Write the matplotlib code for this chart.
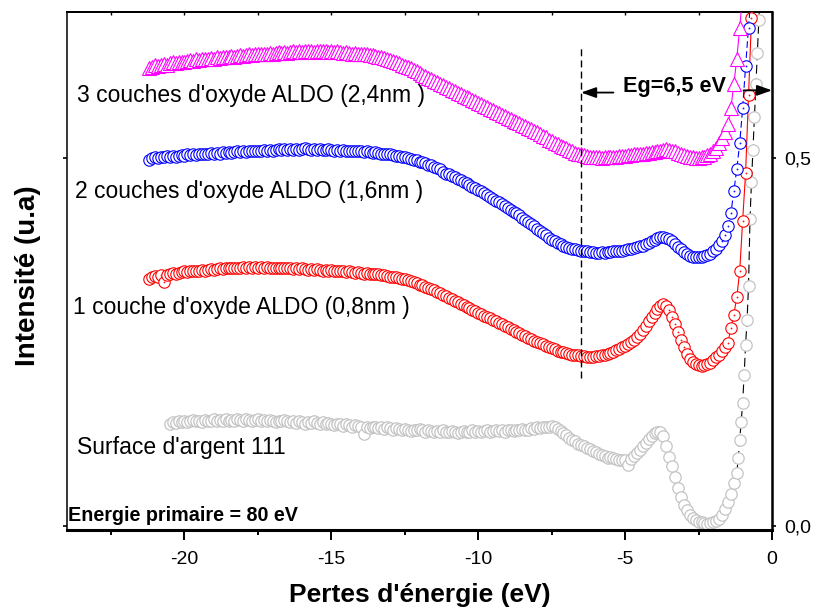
import matplotlib.pyplot as plt
from matplotlib.path import Path
from matplotlib.ticker import MultipleLocator

plt.rcParams['font.family'] = ['Liberation Sans', 'DejaVu Sans']
plt.rcParams['axes.unicode_minus'] = False

# grille en énergie (eV), pas de 0,1 eV
energy = [
    -21.2, -21.1, -21.0, -20.9, -20.8, -20.7, -20.6, -20.5, -20.4, -20.3,
    -20.2, -20.1, -20.0, -19.9, -19.8, -19.7, -19.6, -19.5, -19.4, -19.3,
    -19.2, -19.1, -19.0, -18.9, -18.8, -18.7, -18.6, -18.5, -18.4, -18.3,
    -18.2, -18.1, -18.0, -17.9, -17.8, -17.7, -17.6, -17.5, -17.4, -17.3,
    -17.2, -17.1, -17.0, -16.9, -16.8, -16.7, -16.6, -16.5, -16.4, -16.3,
    -16.2, -16.1, -16.0, -15.9, -15.8, -15.7, -15.6, -15.5, -15.4, -15.3,
    -15.2, -15.1, -15.0, -14.9, -14.8, -14.7, -14.6, -14.5, -14.4, -14.3,
    -14.2, -14.1, -14.0, -13.9, -13.8, -13.7, -13.6, -13.5, -13.4, -13.3,
    -13.2, -13.1, -13.0, -12.9, -12.8, -12.7, -12.6, -12.5, -12.4, -12.3,
    -12.2, -12.1, -12.0, -11.9, -11.8, -11.7, -11.6, -11.5, -11.4, -11.3,
    -11.2, -11.1, -11.0, -10.9, -10.8, -10.7, -10.6, -10.5, -10.4, -10.3,
    -10.2, -10.1, -10.0, -9.9, -9.8, -9.7, -9.6, -9.5, -9.4, -9.3,
    -9.2, -9.1, -9.0, -8.9, -8.8, -8.7, -8.6, -8.5, -8.4, -8.3,
    -8.2, -8.1, -8.0, -7.9, -7.8, -7.7, -7.6, -7.5, -7.4, -7.3,
    -7.2, -7.1, -7.0, -6.9, -6.8, -6.7, -6.6, -6.5, -6.4, -6.3,
    -6.2, -6.1, -6.0, -5.9, -5.8, -5.7, -5.6, -5.5, -5.4, -5.3,
    -5.2, -5.1, -5.0, -4.9, -4.8, -4.7, -4.6, -4.5, -4.4, -4.3,
    -4.2, -4.1, -4.0, -3.9, -3.8, -3.7, -3.6, -3.5, -3.4, -3.3,
    -3.2, -3.1, -3.0, -2.9, -2.8, -2.7, -2.6, -2.5, -2.4, -2.3,
    -2.2, -2.1, -2.0, -1.9, -1.8, -1.7, -1.6, -1.5, -1.4, -1.3,
    -1.2, -1.1, -1.0, -0.9, -0.8, -0.7, -0.6,
]

# 3 couches (2,4 nm)
ald3 = [
    0.622, 0.624, 0.626, 0.625, 0.627, 0.628, 0.627, 0.629, 0.630, 0.629,
    0.630, 0.631, 0.630, 0.632, 0.633, 0.632, 0.634, 0.633, 0.635, 0.634,
    0.635, 0.636, 0.635, 0.637, 0.636, 0.638, 0.637, 0.638, 0.639, 0.638,
    0.639, 0.640, 0.639, 0.640, 0.641, 0.640, 0.641, 0.642, 0.641, 0.642,
    0.642, 0.643, 0.642, 0.643, 0.644, 0.643, 0.644, 0.643, 0.644, 0.645,
    0.644, 0.645, 0.644, 0.645, 0.646, 0.645, 0.644, 0.645, 0.646, 0.645,
    0.645, 0.644, 0.645, 0.644, 0.645, 0.644, 0.643, 0.644, 0.643, 0.642,
    0.643, 0.642, 0.641, 0.642, 0.641, 0.640, 0.640, 0.639, 0.638, 0.637,
    0.636, 0.635, 0.633, 0.632, 0.630, 0.629, 0.627, 0.625, 0.624, 0.622,
    0.620, 0.618, 0.616, 0.613, 0.611, 0.609, 0.607, 0.605, 0.603, 0.601,
    0.599, 0.597, 0.595, 0.593, 0.591, 0.589, 0.587, 0.585, 0.583, 0.581,
    0.579, 0.577, 0.575, 0.573, 0.571, 0.569, 0.567, 0.565, 0.563, 0.561,
    0.559, 0.557, 0.555, 0.553, 0.551, 0.549, 0.547, 0.545, 0.543, 0.541,
    0.539, 0.537, 0.535, 0.533, 0.530, 0.528, 0.525, 0.523, 0.521, 0.519,
    0.517, 0.515, 0.513, 0.511, 0.509, 0.507, 0.506, 0.505, 0.504, 0.503,
    0.502, 0.502, 0.501, 0.501, 0.500, 0.501, 0.501, 0.502, 0.502, 0.502,
    0.503, 0.503, 0.503, 0.504, 0.504, 0.505, 0.505, 0.506, 0.506, 0.507,
    0.507, 0.508, 0.508, 0.509, 0.510, 0.511, 0.512, 0.511, 0.510, 0.509,
    0.507, 0.505, 0.504, 0.503, 0.502, 0.501, 0.500, 0.500, 0.501, 0.502,
    0.504, 0.506, 0.509, 0.514, 0.520, 0.527, 0.535, 0.546, 0.568, 0.600,
    0.635, 0.677, 0.722,
]

# 2 couches (1,6 nm)
ald2 = [
    0.498, 0.500, 0.501, 0.500, 0.502, 0.501, 0.503, 0.502, 0.503, 0.502,
    0.503, 0.504, 0.503, 0.505, 0.504, 0.505, 0.504, 0.506, 0.505, 0.506,
    0.505, 0.507, 0.506, 0.507, 0.506, 0.508, 0.507, 0.508, 0.507, 0.508,
    0.509, 0.508, 0.509, 0.508, 0.510, 0.509, 0.510, 0.509, 0.510, 0.511,
    0.510, 0.511, 0.510, 0.511, 0.512, 0.511, 0.512, 0.511, 0.512, 0.511,
    0.512, 0.511, 0.512, 0.513, 0.512, 0.511, 0.512, 0.511, 0.512, 0.511,
    0.511, 0.512, 0.511, 0.510, 0.511, 0.510, 0.511, 0.510, 0.509, 0.510,
    0.509, 0.510, 0.509, 0.508, 0.509, 0.508, 0.507, 0.508, 0.507, 0.506,
    0.506, 0.505, 0.505, 0.504, 0.503, 0.503, 0.502, 0.501, 0.500, 0.499,
    0.498, 0.497, 0.495, 0.494, 0.493, 0.491, 0.490, 0.488, 0.487, 0.485,
    0.481, 0.479, 0.478, 0.476, 0.474, 0.472, 0.470, 0.468, 0.466, 0.463,
    0.461, 0.459, 0.457, 0.455, 0.452, 0.450, 0.447, 0.445, 0.442, 0.440,
    0.437, 0.435, 0.432, 0.430, 0.427, 0.425, 0.422, 0.419, 0.416, 0.413,
    0.410, 0.407, 0.404, 0.401, 0.398, 0.395, 0.392, 0.389, 0.387, 0.385,
    0.383, 0.381, 0.379, 0.378, 0.377, 0.376, 0.375, 0.374, 0.373, 0.373,
    0.372, 0.372, 0.371, 0.371, 0.372, 0.371, 0.372, 0.372, 0.373, 0.373,
    0.374, 0.374, 0.375, 0.376, 0.377, 0.378, 0.379, 0.380, 0.381, 0.383,
    0.385, 0.387, 0.389, 0.391, 0.393, 0.393, 0.392, 0.390, 0.387, 0.383,
    0.379, 0.376, 0.372, 0.369, 0.367, 0.366, 0.365, 0.365, 0.366, 0.367,
    0.368, 0.370, 0.373, 0.377, 0.382, 0.387, 0.395, 0.407, 0.425, 0.455,
    0.485, 0.520, 0.568, 0.625, 0.677, 0.730,
]

# 1 couche (0,8 nm)
ald1 = [
    0.336, 0.338, 0.340, 0.339, 0.341, 0.331, 0.341, 0.343, 0.344, 0.343,
    0.344, 0.345, 0.346, 0.345, 0.346, 0.347, 0.346, 0.347, 0.348, 0.347,
    0.348, 0.349, 0.348, 0.349, 0.350, 0.349, 0.350, 0.351, 0.350, 0.351,
    0.350, 0.351, 0.352, 0.351, 0.352, 0.351, 0.352, 0.351, 0.352, 0.351,
    0.352, 0.351, 0.350, 0.351, 0.350, 0.351, 0.350, 0.351, 0.350, 0.349,
    0.350, 0.349, 0.350, 0.349, 0.348, 0.349, 0.348, 0.349, 0.348, 0.347,
    0.348, 0.347, 0.348, 0.347, 0.346, 0.347, 0.346, 0.345, 0.346, 0.345,
    0.344, 0.345, 0.344, 0.343, 0.344, 0.343, 0.342, 0.343, 0.342, 0.341,
    0.341, 0.340, 0.339, 0.339, 0.338, 0.337, 0.336, 0.335, 0.334, 0.333,
    0.331, 0.330, 0.328, 0.327, 0.325, 0.323, 0.322, 0.320, 0.318, 0.316,
    0.314, 0.312, 0.310, 0.308, 0.306, 0.304, 0.302, 0.300, 0.298, 0.296,
    0.294, 0.292, 0.290, 0.288, 0.286, 0.284, 0.282, 0.280, 0.278, 0.276,
    0.274, 0.272, 0.270, 0.268, 0.266, 0.264, 0.262, 0.260, 0.258, 0.256,
    0.254, 0.252, 0.250, 0.248, 0.247, 0.245, 0.243, 0.242, 0.240, 0.238,
    0.237, 0.236, 0.235, 0.234, 0.233, 0.232, 0.232, 0.231, 0.231, 0.230,
    0.230, 0.230, 0.231, 0.231, 0.232, 0.233, 0.234, 0.235, 0.237, 0.239,
    0.241, 0.243, 0.245, 0.247, 0.250, 0.253, 0.257, 0.261, 0.266, 0.272,
    0.278, 0.284, 0.290, 0.295, 0.299, 0.301, 0.299, 0.294, 0.284, 0.275,
    0.264, 0.253, 0.243, 0.234, 0.227, 0.223, 0.220, 0.219, 0.218, 0.219,
    0.220, 0.222, 0.225, 0.229, 0.233, 0.238, 0.243, 0.249, 0.269, 0.287,
    0.311, 0.346, 0.415, 0.480, 0.586, 0.690, 0.790,
]

# surface Ag(111) : de -20,5 à -1,2 eV sur la grille, puis pas de 0,05 eV
ag_tail_energy = [-1.15, -1.1, -1.05, -1.0, -0.95, -0.9, -0.85, -0.8,
                  -0.75, -0.7, -0.65, -0.6, -0.55, -0.5, -0.45, -0.4]
ag111 = [
    0.139, 0.141, 0.140, 0.142, 0.141, 0.143, 0.141, 0.142, 0.144, 0.142,
    0.143, 0.141, 0.144, 0.142, 0.143, 0.145, 0.142, 0.144, 0.143, 0.145,
    0.143, 0.144, 0.142, 0.145, 0.144, 0.143, 0.145, 0.144, 0.142, 0.144,
    0.145, 0.143, 0.144, 0.142, 0.144, 0.143, 0.141, 0.143, 0.142, 0.144,
    0.142, 0.141, 0.143, 0.140, 0.142, 0.141, 0.139, 0.141, 0.140, 0.142,
    0.140, 0.139, 0.141, 0.138, 0.140, 0.139, 0.137, 0.139, 0.138, 0.136,
    0.138, 0.137, 0.135, 0.137, 0.136, 0.134, 0.125, 0.135, 0.133, 0.135,
    0.134, 0.133, 0.135, 0.132, 0.134, 0.133, 0.131, 0.133, 0.132, 0.130,
    0.132, 0.131, 0.129, 0.131, 0.130, 0.132, 0.130, 0.128, 0.130, 0.129,
    0.127, 0.129, 0.128, 0.130, 0.128, 0.127, 0.129, 0.128, 0.126, 0.128,
    0.129, 0.127, 0.128, 0.130, 0.128, 0.129, 0.127, 0.129, 0.130, 0.128,
    0.129, 0.131, 0.129, 0.130, 0.128, 0.130, 0.131, 0.129, 0.131, 0.130,
    0.132, 0.130, 0.131, 0.133, 0.132, 0.134, 0.133, 0.135, 0.134, 0.135,
    0.136, 0.134, 0.132, 0.129, 0.126, 0.123, 0.120, 0.117, 0.115, 0.112,
    0.110, 0.108, 0.106, 0.104, 0.102, 0.100, 0.098, 0.096, 0.095, 0.093,
    0.094, 0.092, 0.091, 0.090, 0.089, 0.090, 0.083, 0.091, 0.095, 0.099,
    0.103, 0.108, 0.113, 0.118, 0.122, 0.126, 0.128, 0.127, 0.122, 0.108,
    0.094, 0.082, 0.066, 0.051, 0.039, 0.029, 0.021, 0.015, 0.011, 0.008,
    0.006, 0.005, 0.004, 0.003, 0.004, 0.005, 0.007, 0.010, 0.015, 0.023,
    0.033, 0.044, 0.058, 0.072,
    0.092, 0.117, 0.141, 0.167, 0.205, 0.246, 0.280, 0.326,
    0.417, 0.467, 0.511, 0.556, 0.600, 0.643, 0.687, 0.730,
]

labels = ["3 couches d'oxyde ALDO (2,4nm )", "2 couches d'oxyde ALDO (1,6nm )",
          "1 couche d'oxyde ALDO (0,8nm )", "Surface d'argent 111"]
label_pos = [(-23.65, 0.576), (-23.72, 0.446), (-23.79, 0.288), (-23.65, 0.098)]

xticks = [-20, -15, -10, -5, 0]
xtick_labels = ['-20', '-15', '-10', '-5', '0']
yticks = [0.0, 0.5]
ytick_labels = ['0,0', '0,5']

gap_edge = -6.5           # début du gap (Eg = 6,5 eV)
gap_line = (0.201, 0.651)
arrow_y = 0.589

# cercle avec point au centre, comme dans Origin
dotted_circle = Path.make_compound_path(Path.unit_circle(), Path.circle((0, 0), 0.06))

fig = plt.figure(figsize=(8.13, 6.12), dpi=100)
ax = fig.add_axes([0.0824, 0.134, 0.8672, 0.8464])

ax.plot(energy[7:201] + ag_tail_energy, ag111, color='black', ls=(0, (8, 4)), lw=0.8,
        marker='o', ms=8.2, mfc='white', mec='#c4c4c4', mew=0.9, zorder=2)
ax.plot(energy[:len(ald1)], ald1, color='red', ls='-', lw=0.8,
        marker=dotted_circle, ms=8.2, mfc='white', mec='red', mew=0.8, zorder=3)
ax.plot(energy[:len(ald2)], ald2, color='blue', ls=(0, (6, 3)), lw=0.8,
        marker=dotted_circle, ms=8.2, mfc='white', mec='blue', mew=0.8, zorder=4)
ax.plot(energy[:len(ald3)], ald3, color='magenta', ls='-', lw=0.8,
        marker='^', ms=10, mfc='white', mec='magenta', mew=0.8, zorder=5)

for txt, (x, y) in zip(labels, label_pos):
    ax.text(x, y, txt, fontsize=16.5, ha='left', va='baseline')
ax.text(-23.96, 0.0068, 'Energie primaire = 80 eV', fontsize=14.2, fontweight='bold',
        ha='left', va='baseline')

# gap
ax.vlines(gap_edge, gap_line[0], gap_line[1], colors='black', linestyles=(0, (5, 3)), lw=1.0, zorder=6)
head = '-|>,head_length=0.45,head_width=0.16'
ax.annotate('', xy=(gap_edge, arrow_y), xytext=(-5.4, arrow_y),
            arrowprops=dict(arrowstyle=head, color='black', lw=1.3, mutation_scale=20,
                            shrinkA=0, shrinkB=0), zorder=7)
ax.annotate('', xy=(0, arrow_y + 0.003), xytext=(-0.97, arrow_y + 0.003), annotation_clip=False,
            arrowprops=dict(arrowstyle=head, color='black', lw=1.3, mutation_scale=20,
                            shrinkA=0, shrinkB=0), zorder=7)
ax.text(-5.07, 0.590, 'Eg=6,5 eV', fontsize=15.6, fontweight='bold', ha='left', va='baseline')

ax.set_xlim(-24, 0)
ax.set_ylim(-0.0055, 0.6985)

ax.set_xticks(xticks)
ax.set_xticklabels(xtick_labels)
ax.xaxis.set_minor_locator(MultipleLocator(2.5))
ax.tick_params(axis='x', which='major', direction='out', length=7, width=1.4,
               labelsize=14, pad=8, top=False)
ax.tick_params(axis='x', which='minor', direction='out', length=3.6, width=1.4, top=False)

top = ax.secondary_xaxis('top')
top.xaxis.set_major_locator(MultipleLocator(2.5))
top.tick_params(axis='x', direction='in', length=2.5, width=1.0, labeltop=False)
top.spines['top'].set_linewidth(1.4)

ax.set_yticks(yticks)
ax.set_yticklabels(ytick_labels)
ax.tick_params(axis='y', left=True, right=True, labelleft=False, labelright=True,
               direction='out', length=3, width=1.2, labelsize=14, pad=6)

ax.spines['left'].set_linewidth(1.1)
ax.spines['right'].set_linewidth(1.8)
ax.spines['bottom'].set_linewidth(2.2)
ax.spines['top'].set_linewidth(1.4)

fig.text(420 / 813, 10 / 612, "Pertes d'énergie (eV)", fontsize=19, fontweight='bold',
         ha='center', va='baseline')
fig.text(35 / 813, 1 - 276 / 612, 'Intensité (u.a)', fontsize=20, fontweight='bold',
         rotation=90, rotation_mode='anchor', ha='center', va='baseline')

fig.savefig('out.png', dpi=100)
plt.close(fig)
